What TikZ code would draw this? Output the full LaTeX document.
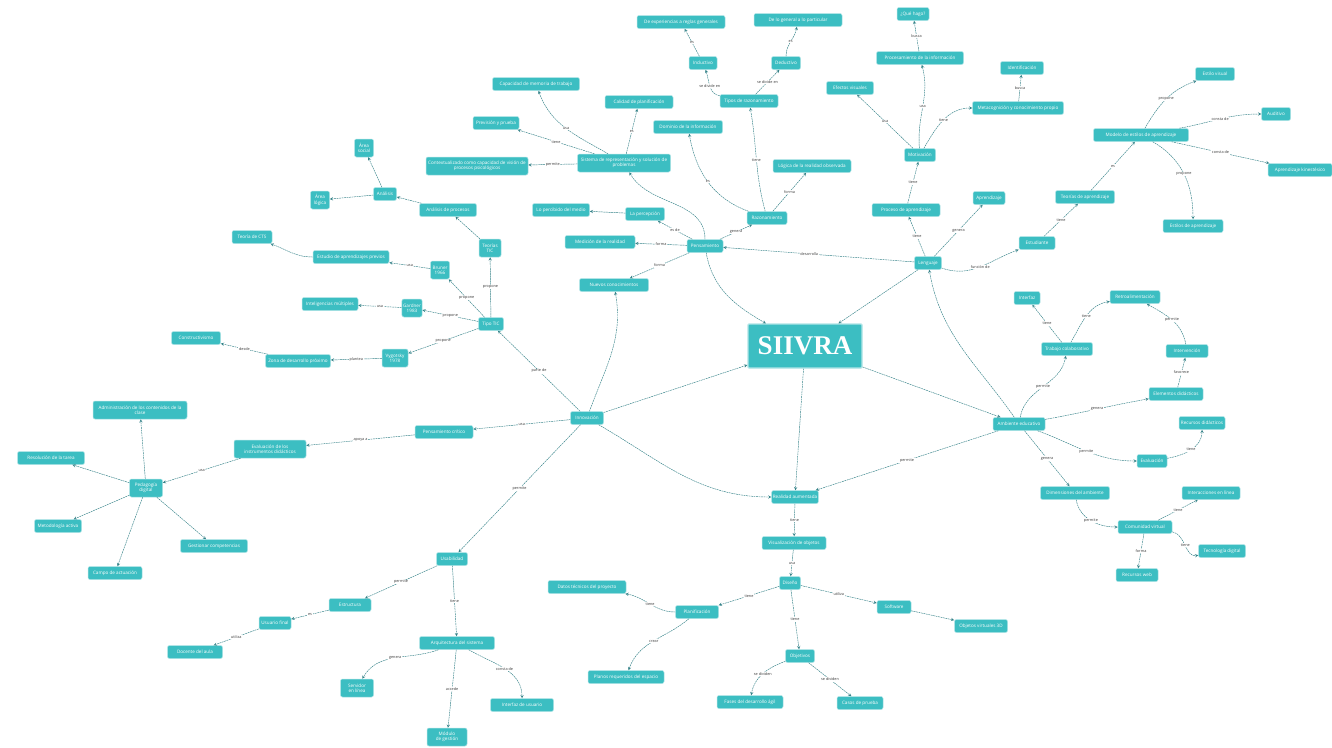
\documentclass[tikz,border=0pt]{standalone}
\usepackage{fontspec}
\setsansfont{Open Sans}
\newfontfamily\titlefont{Liberation Serif}
\usepackage{tikz}
\usetikzlibrary{shapes.geometric, arrows}

\definecolor{nodeteal}{RGB}{60,190,194}
\definecolor{nodeedge}{RGB}{175,228,230}
\definecolor{linkteal}{RGB}{52,130,136}
\definecolor{tagtext}{RGB}{60,60,60}

\begin{document}
\begin{tikzpicture}[x=1pt, y=1pt]

\tikzstyle{concept} = [rectangle, rounded corners=2pt, minimum height=13pt, inner sep=1.2pt, align=center, draw=nodeedge, line width=0.5pt, fill=nodeteal, text=white, font=\sffamily\fontsize{4.6}{5.2}\selectfont]
\tikzstyle{core} = [rectangle, rounded corners=1pt, minimum width=114pt, minimum height=44pt, draw=nodeedge, line width=1.2pt, fill=nodeteal, text=white, font=\titlefont\bfseries\fontsize{27}{30}\selectfont]
\tikzstyle{tag} = [fill=white, inner sep=0.6pt, text=tagtext, font=\sffamily\fontsize{3.8}{4.2}\selectfont]
\tikzstyle{arrow} = [->, >=stealth, draw=linkteal, line width=0.45pt, dash pattern=on 1.8pt off 0.7pt]

\fill[white] (0,0) rectangle (1332,-747);
\useasboundingbox (0,0) rectangle (1332,-747);

% Nodes
\node (siivra) [core] at (805,-346) {SIIVRA};

% pensamiento
\node (expgen) [concept, minimum width=88pt] at (681,-22) {De experiencias a reglas generales};
\node (gralpart) [concept, minimum width=88pt] at (798,-20) {De lo general a lo particular};
\node (induct) [concept, minimum width=28pt] at (703,-63) {Inductivo};
\node (deduct) [concept, minimum width=29pt] at (786,-63) {Deductivo};
\node (tiposraz) [concept, minimum width=58pt] at (749,-101) {Tipos de razonamiento};
\node (razon) [concept, minimum width=40pt] at (767,-218) {Razonamiento};
\node (pensam) [concept, minimum width=36pt] at (705,-246) {Pensamiento};
\node (dominio) [concept, minimum width=69pt] at (688,-127) {Dominio de la información};
\node (logica) [concept, minimum width=78pt] at (812,-166) {Lógica de la realidad observada};
\node (sistema) [concept, minimum width=93pt, minimum height=18pt] at (624,-163) {Sistema de representación y solución de\\problemas};
\node (memtrab) [concept, minimum width=87pt] at (536,-84) {Capacidad de memoria de trabajo};
\node (planif) [concept, minimum width=68pt] at (639,-102) {Calidad de planificación};
\node (prevision) [concept, minimum width=46pt] at (496,-123) {Previsión y prueba};
\node (context) [concept, minimum width=102pt, minimum height=18pt] at (477,-166) {Contextualizado como capacidad de visión de\\procesos psicológicos};
\node (percibido) [concept, minimum width=57pt] at (561,-210) {Lo percibido del medio};
\node (percep) [concept, minimum width=39pt] at (645,-214) {La percepción};
\node (medidas) [concept, minimum width=70pt] at (600,-242) {Medición de la realidad};
\node (nuevos) [concept, minimum width=69pt] at (614,-285) {Nuevos conocimientos};

% lenguaje
\node (quehago) [concept, minimum width=32pt] at (913,-14) {¿Qué hago?};
\node (procinfo) [concept, minimum width=87pt] at (920,-58) {Procesamiento de la información};
\node (efectos) [concept, minimum width=47pt] at (850,-88) {Efectos visuales};
\node (motiv) [concept, minimum width=31pt] at (920,-155) {Motivación};
\node (metacog) [concept, minimum width=91pt] at (1018,-108) {Metacognición y conocimiento propio};
\node (identif) [concept, minimum width=43pt] at (1022,-68) {Identificación};
\node (procap) [concept, minimum width=68pt] at (906,-210) {Proceso de aprendizaje};
\node (aprend) [concept, minimum width=32pt] at (989,-198) {Aprendizaje};
\node (lenguaje) [concept, minimum width=27pt] at (928,-263) {Lenguaje};
\node (kolb) [concept, minimum width=95pt] at (1141,-135) {Modelo de estilos de aprendizaje};
\node (visual) [concept, minimum width=39pt] at (1215,-74) {Estilo visual};
\node (auditivo) [concept, minimum width=29pt] at (1276,-114) {Auditivo};
\node (kines) [concept, minimum width=64pt] at (1300,-170) {Aprendizaje kinestésico};
\node (estilos) [concept, minimum width=60pt] at (1193,-226) {Estilos de aprendizaje};
\node (teorias) [concept, minimum width=59pt] at (1085,-197) {Teorías de aprendizaje};
\node (estud) [concept, minimum width=36pt] at (1037,-243) {Estudiante};

% ambiente educativo
\node (interfaz) [concept, minimum width=26pt] at (1027,-298) {Interfaz};
\node (retro) [concept, minimum width=50pt] at (1135,-297) {Retroalimentación};
\node (trabcol) [concept, minimum width=51pt] at (1067,-349) {Trabajo colaborativo};
\node (interv) [concept, minimum width=42pt] at (1187,-351) {Intervención};
\node (elem) [concept, minimum width=54pt] at (1176,-394) {Elementos didácticos};
\node (ambiente) [concept, minimum width=52pt] at (1019,-424) {Ambiente educativo};
\node (recursos) [concept, minimum width=46pt] at (1202,-423) {Recursos didácticos};
\node (evalua) [concept, minimum width=30pt] at (1152,-461) {Evaluación};
\node (dimens) [concept, minimum width=69pt] at (1075,-493) {Dimensiones del ambiente};
\node (interac) [concept, minimum width=58pt] at (1211,-493) {Interacciones en línea};
\node (comun) [concept, minimum width=54pt] at (1145,-527) {Comunidad virtual};
\node (tecno) [concept, minimum width=47pt] at (1222,-551) {Tecnología digital};
\node (recweb) [concept, minimum width=42pt] at (1137,-575) {Recursos web};

% realidad aumentada
\node (realaum) [concept, minimum width=45pt] at (795,-497) {Realidad aumentada};
\node (visualiz) [concept, minimum width=64pt] at (794,-543) {Visualización de objetos};
\node (diseno) [concept, minimum width=21pt] at (790,-583) {Diseño};
\node (desarr) [concept, minimum width=43pt] at (697,-612) {Planificación};
\node (software) [concept, minimum width=34pt] at (894,-607) {Software};
\node (realvirt) [concept, minimum width=53pt] at (981,-626) {Objetos virtuales 3D};
\node (objet) [concept, minimum width=29pt] at (800,-656) {Objetivos};
\node (fases) [concept, minimum width=66pt] at (750,-702) {Fases del desarrollo ágil};
\node (casos) [concept, minimum width=46pt] at (860,-703) {Casos de prueba};
\node (datos) [concept, minimum width=78pt] at (587,-587) {Datos técnicos del proyecto};
\node (planos) [concept, minimum width=76pt] at (626,-677) {Planos requeridos del espacio};

% innovacion
\node (innov) [concept, minimum width=33pt] at (587,-418) {Innovación};
\node (usab) [concept, minimum width=31pt] at (452,-559) {Usabilidad};
\node (estruct) [concept, minimum width=42pt] at (350,-605) {Estructura};
\node (usuario) [concept, minimum width=32pt] at (275,-623) {Usuario final};
\node (persona) [concept, minimum width=55pt] at (195,-652) {Docente del aula};
\node (arquit) [concept, minimum width=75pt] at (457,-643) {Arquitectura del sistema};
\node (servidor) [concept, minimum width=33pt, minimum height=18pt] at (357,-688) {Servidor\\en línea};
\node (basedat) [concept, minimum width=40pt, minimum height=18pt] at (447,-737) {Módulo\\de gestión};
\node (interusr) [concept, minimum width=63pt] at (522,-705) {Interfaz de usuario};
\node (pcrit) [concept, minimum width=58pt] at (444,-432) {Pensamiento crítico};
\node (evalinst) [concept, minimum width=72pt, minimum height=18pt] at (270,-449) {Evaluación de los\\instrumentos didácticos};
\node (pedag) [concept, minimum width=33pt, minimum height=18pt] at (146,-488) {Pedagogía\\digital};
\node (admin) [concept, minimum width=94pt, minimum height=18pt] at (140,-410) {Administración de los contenidos de la\\clase};
\node (resol) [concept, minimum width=67pt] at (51,-458) {Resolución de la tarea};
\node (metod) [concept, minimum width=47pt] at (58,-526) {Metodología activa};
\node (campo) [concept, minimum width=54pt] at (115,-573) {Campo de actuación};
\node (gestion) [concept, minimum width=67pt] at (214,-546) {Gestionar competencias};

% tipo TIC
\node (tipotic) [concept, minimum width=25pt] at (491,-324) {Tipo TIC};
\node (teortic) [concept, minimum width=22pt, minimum height=18pt] at (490,-248) {Teorías\\TIC};
\node (analisisde) [concept, minimum width=57pt] at (448,-210) {Análisis de procesos};
\node (analisis) [concept, minimum width=23pt] at (385,-194) {Análisis};
\node (area1) [concept, minimum width=19pt, minimum height=18pt] at (364,-148) {Área\\social};
\node (area2) [concept, minimum width=19pt, minimum height=18pt] at (320,-200) {Área\\lógica};
\node (bruner) [concept, minimum width=19pt, minimum height=18pt] at (440,-270) {Bruner\\1966};
\node (estudio) [concept, minimum width=76pt] at (351,-257) {Estudio de aprendizajes previos};
\node (teoriac) [concept, minimum width=40pt] at (252,-237) {Teoría de CTS};
\node (gardner) [concept, minimum width=19pt, minimum height=18pt] at (412,-308) {Gardner\\1983};
\node (intmult) [concept, minimum width=56pt] at (330,-304) {Inteligencias múltiples};
\node (vygot) [concept, minimum width=26pt, minimum height=18pt] at (395,-358) {Vygotsky\\1978};
\node (zona) [concept, minimum width=65pt] at (298,-361) {Zona de desarrollo próximo};
\node (pcompl) [concept, minimum width=49pt] at (196,-338) {Constructivismo};

% Arrows
\draw [arrow] (pensam) to[out=-80, in=150] (siivra);
\draw [arrow] (lenguaje) -- (siivra);
\draw [arrow] (innov) -- (siivra);
\draw [arrow] (siivra) -- (realaum);
\draw [arrow] (siivra) -- (ambiente);
\draw [arrow] (innov) to[out=-30, in=180] (realaum);
\draw [arrow] (ambiente) -- node[tag] {permite} (realaum);
\draw [arrow] (ambiente) to[out=125, in=-80] (lenguaje);
\draw [arrow] (lenguaje) -- node[tag, pos=0.55] {desarrolla} (pensam);

\draw [arrow] (pensam) to[out=90, in=-60] (sistema);
\draw [arrow] (pensam) -- node[tag] {es de} (percep);
\draw [arrow] (pensam) -- node[tag] {forma} (medidas);
\draw [arrow] (pensam) -- node[tag] {genera} (razon);
\draw [arrow] (pensam) -- node[tag] {forma} (nuevos);
\draw [arrow] (percep) -- (percibido);
\draw [arrow] (razon) to[out=160, in=-80] node[tag] {es} (dominio);
\draw [arrow] (razon) to[out=105, in=-80] node[tag] {tiene} (tiposraz);
\draw [arrow] (razon) -- node[tag] {forma} (logica);
\draw [arrow] (tiposraz) to[out=170, in=-70] node[tag] {se divide en} (induct);
\draw [arrow] (tiposraz) -- node[tag] {se divide en} (deduct);
\draw [arrow] (induct) -- node[tag] {es} (expgen);
\draw [arrow] (deduct) to[out=90, in=-100] node[tag] {es} (gralpart);
\draw [arrow] (sistema) to[out=150, in=-70] node[tag] {usa} (memtrab);
\draw [arrow] (sistema) -- node[tag] {tiene} (prevision);
\draw [arrow] (sistema) -- node[tag] {es} (planif);
\draw [arrow] (sistema) -- node[tag] {permite} (context);

\draw [arrow] (lenguaje) -- node[tag] {tiene} (procap);
\draw [arrow] (lenguaje) -- node[tag] {genera} (aprend);
\draw [arrow] (lenguaje) to[out=-20, in=200] node[tag] {función de} (estud);
\draw [arrow] (procap) -- node[tag] {tiene} (motiv);
\draw [arrow] (motiv) -- node[tag] {usa} (efectos);
\draw [arrow] (motiv) to[out=95, in=-75] node[tag] {usa} (procinfo);
\draw [arrow] (motiv) to[out=60, in=180] node[tag] {tiene} (metacog);
\draw [arrow] (procinfo) -- node[tag] {busca} (quehago);
\draw [arrow] (metacog) -- node[tag] {busca} (identif);
\draw [arrow] (estud) -- node[tag] {tiene} (teorias);
\draw [arrow] (teorias) -- node[tag] {es} (kolb);
\draw [arrow] (kolb) to[out=60, in=200] node[tag] {propone} (visual);
\draw [arrow] (kolb) to[out=10, in=180] node[tag] {consta de} (auditivo);
\draw [arrow] (kolb) -- node[tag] {consta de} (kines);
\draw [arrow] (kolb) to[out=-30, in=90] node[tag] {propone} (estilos);

\draw [arrow] (ambiente) to[out=80, in=-100] node[tag] {permite} (trabcol);
\draw [arrow] (trabcol) -- node[tag] {tiene} (interfaz);
\draw [arrow] (trabcol) to[out=60, in=190] node[tag] {tiene} (retro);
\draw [arrow] (interv) to[out=100, in=-30] node[tag] {permite} (retro);
\draw [arrow] (elem) -- node[tag] {favorece} (interv);
\draw [arrow] (ambiente) to[out=10, in=190] node[tag] {genera} (elem);
\draw [arrow] (ambiente) to[out=-20, in=180] node[tag] {permite} (evalua);
\draw [arrow] (evalua) to[out=10, in=-90] node[tag] {tiene} (recursos);
\draw [arrow] (ambiente) -- node[tag] {genera} (dimens);
\draw [arrow] (dimens) to[out=-80, in=180] node[tag] {permite} (comun);
\draw [arrow] (comun) -- node[tag] {tiene} (interac);
\draw [arrow] (comun) to[out=-10, in=190] node[tag] {tiene} (tecno);
\draw [arrow] (comun) -- node[tag] {forma} (recweb);

\draw [arrow] (realaum) -- node[tag] {tiene} (visualiz);
\draw [arrow] (visualiz) -- node[tag] {usa} (diseno);
\draw [arrow] (diseno) -- node[tag] {tiene} (desarr);
\draw [arrow] (diseno) -- node[tag] {utiliza} (software);
\draw [arrow] (diseno) -- node[tag] {tiene} (objet);
\draw [arrow] (software) -- (realvirt);
\draw [arrow] (objet) to[out=200, in=80] node[tag] {se dividen} (fases);
\draw [arrow] (objet) -- node[tag] {se dividen} (casos);
\draw [arrow] (desarr) to[out=180, in=-10] node[tag] {tiene} (datos);
\draw [arrow] (desarr) to[out=220, in=70] node[tag] {crear} (planos);

\draw [arrow] (innov) -- node[tag] {permite} (usab);
\draw [arrow] (usab) -- node[tag] {permite} (estruct);
\draw [arrow] (usab) -- node[tag] {tiene} (arquit);
\draw [arrow] (estruct) -- node[tag] {es} (usuario);
\draw [arrow] (usuario) -- node[tag] {utiliza} (persona);
\draw [arrow] (arquit) to[out=200, in=60] node[tag] {genera} (servidor);
\draw [arrow] (arquit) -- node[tag] {accede} (basedat);
\draw [arrow] (arquit) to[out=-30, in=90] node[tag] {consta de} (interusr);
\draw [arrow] (innov) -- node[tag] {usa} (pcrit);
\draw [arrow] (pcrit) -- node[tag] {apoya a} (evalinst);
\draw [arrow] (evalinst) -- node[tag] {usa} (pedag);
\draw [arrow] (pedag) -- (admin);
\draw [arrow] (pedag) -- (resol);
\draw [arrow] (pedag) -- (metod);
\draw [arrow] (pedag) -- (campo);
\draw [arrow] (pedag) -- (gestion);

\draw [arrow] (innov) -- node[tag] {parte de} (tipotic);
\draw [arrow] (innov) to[out=70, in=-80] (nuevos);
\draw [arrow] (tipotic) -- node[tag] {propone} (teortic);
\draw [arrow] (tipotic) -- node[tag] {propone} (bruner);
\draw [arrow] (tipotic) -- node[tag] {propone} (gardner);
\draw [arrow] (tipotic) -- node[tag] {propone} (vygot);
\draw [arrow] (teortic) -- (analisisde);
\draw [arrow] (analisisde) -- (analisis);
\draw [arrow] (analisis) -- (area1);
\draw [arrow] (analisis) -- (area2);
\draw [arrow] (bruner) -- node[tag] {usa} (estudio);
\draw [arrow] (estudio) to[out=180, in=-20] (teoriac);
\draw [arrow] (gardner) -- node[tag] {usa} (intmult);
\draw [arrow] (vygot) -- node[tag] {plantea} (zona);
\draw [arrow] (zona) -- node[tag] {desde} (pcompl);

\end{tikzpicture}
\end{document}
